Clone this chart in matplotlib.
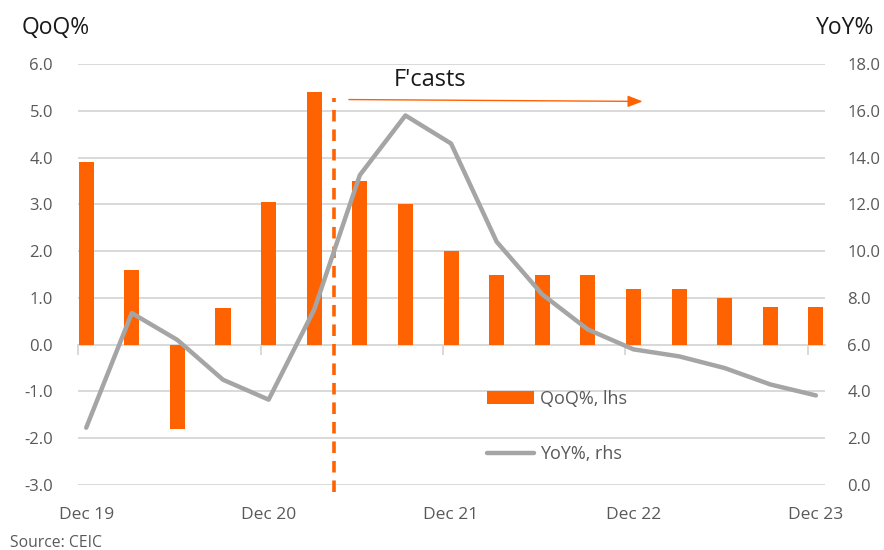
import matplotlib
matplotlib.use("Agg")
import matplotlib.pyplot as plt
import numpy as np

# Quarterly data, Dec 2019 - Dec 2023
quarters = ["Dec 19", "Mar 20", "Jun 20", "Sep 20", "Dec 20", "Mar 21", "Jun 21",
            "Sep 21", "Dec 21", "Mar 22", "Jun 22", "Sep 22", "Dec 22", "Mar 23",
            "Jun 23", "Sep 23", "Dec 23"]
qoq = [3.9, 1.6, -1.8, 0.78, 3.05, 5.4, 3.5, 3.0, 2.0, 1.5, 1.5, 1.5, 1.2, 1.2,
       1.0, 0.8, 0.8]
yoy = [2.45, 7.35, 6.2, 4.5, 3.65, 7.5, 13.25, 15.8, 14.6, 10.4, 8.15, 6.65,
       5.8, 5.5, 5.0, 4.3, 3.83]
tick_labels = ["Dec 19", "Dec 20", "Dec 21", "Dec 22", "Dec 23"]

ORANGE = "#FF6200"
GREY_LINE = "#A5A5A5"
GRID = "#D9D9D9"
TXT = "#595959"

plt.rcParams["font.family"] = ["Open Sans", "DejaVu Sans"]

fig = plt.figure(figsize=(8.84, 5.5), dpi=100)
ax = fig.add_axes([78 / 884, 1 - 485 / 550, 747 / 884, 421 / 550])
ax2 = ax.twinx()

x = np.arange(len(quarters))
bars = ax.bar(x, qoq, width=0.33, color=ORANGE, label="QoQ%, lhs", zorder=2)
line, = ax2.plot(x, yoy, color=GREY_LINE, lw=3.2, label="YoY%, rhs",
                 solid_capstyle="round", zorder=3)

# Axis limits and ticks
ax.set_xlim(-0.18, len(quarters) - 1 + 0.2)
ax.set_ylim(-3, 6)
ax2.set_ylim(0, 18)
ax.set_yticks(np.arange(-3, 6.1, 1.0))
ax2.set_yticks(np.arange(0, 18.1, 2.0))
ax.yaxis.set_major_formatter(matplotlib.ticker.FormatStrFormatter("%.1f"))
ax2.yaxis.set_major_formatter(matplotlib.ticker.FormatStrFormatter("%.1f"))
ax.grid(axis="y", color=GRID, lw=1.4, zorder=0)
ax.set_axisbelow(True)

label_pos = [quarters.index(t) for t in tick_labels]
ax.set_xticks(label_pos, tick_labels)
ax.tick_params(axis="x", length=0, pad=16, labelsize=12.5, labelcolor=TXT)
ax.tick_params(axis="y", length=0, pad=18, labelsize=12, labelcolor=TXT)
ax2.tick_params(axis="y", length=0, pad=16, labelsize=12, labelcolor=TXT)

for a in (ax, ax2):
    for s in a.spines.values():
        s.set_visible(False)

# Category axis drawn along the zero line with year tick marks
zero_axis = ax.secondary_xaxis(1 / 3)
zero_axis.set_xticks([p - 0.175 for p in label_pos], [""] * len(label_pos))
zero_axis.tick_params(axis="x", length=7, width=1.4, color=GRID, direction="out")
zero_axis.spines["bottom"].set_color(GRID)
zero_axis.spines["bottom"].set_linewidth(1.4)
zero_axis.spines["top"].set_visible(False)

# Forecast divider and arrow
ax.plot([5.44, 5.44], [-3.15, 5.28], color=ORANGE, lw=2.6, ls=(0, (3.2, 2.2)),
        zorder=4, clip_on=False)
ax.annotate("", xy=(12.2, 5.2), xytext=(5.76, 5.24),
            arrowprops=dict(arrowstyle="-|>,head_length=0.9,head_width=0.35",
                            color=ORANGE, lw=1.0, shrinkA=0, shrinkB=0))
ax.text(7.55, 5.66, "F'casts", fontsize=17, color="#1A1A1A",
        ha="center", va="center")

# Axis titles and source
fig.text(22 / 884, 1 - 28 / 550, "QoQ%", fontsize=16.5, color="#1A1A1A",
         ha="left", va="center")
fig.text(874 / 884, 1 - 28 / 550, "YoY%", fontsize=16.5, color="#1A1A1A",
         ha="right", va="center")
fig.text(10 / 884, 1 - 543 / 550, "Source: CEIC", fontsize=11.3, color=TXT,
         ha="left", va="center")

leg = ax2.legend([bars, line], ["QoQ%, lhs", "YoY%, rhs"], loc="center left",
                 bbox_to_anchor=(0.548, 0.139), frameon=False, fontsize=13,
                 labelspacing=2.1, handlelength=2.6, handletextpad=0.3,
                 borderpad=0, borderaxespad=0, labelcolor=TXT)

fig.savefig("out.png", dpi=100)
